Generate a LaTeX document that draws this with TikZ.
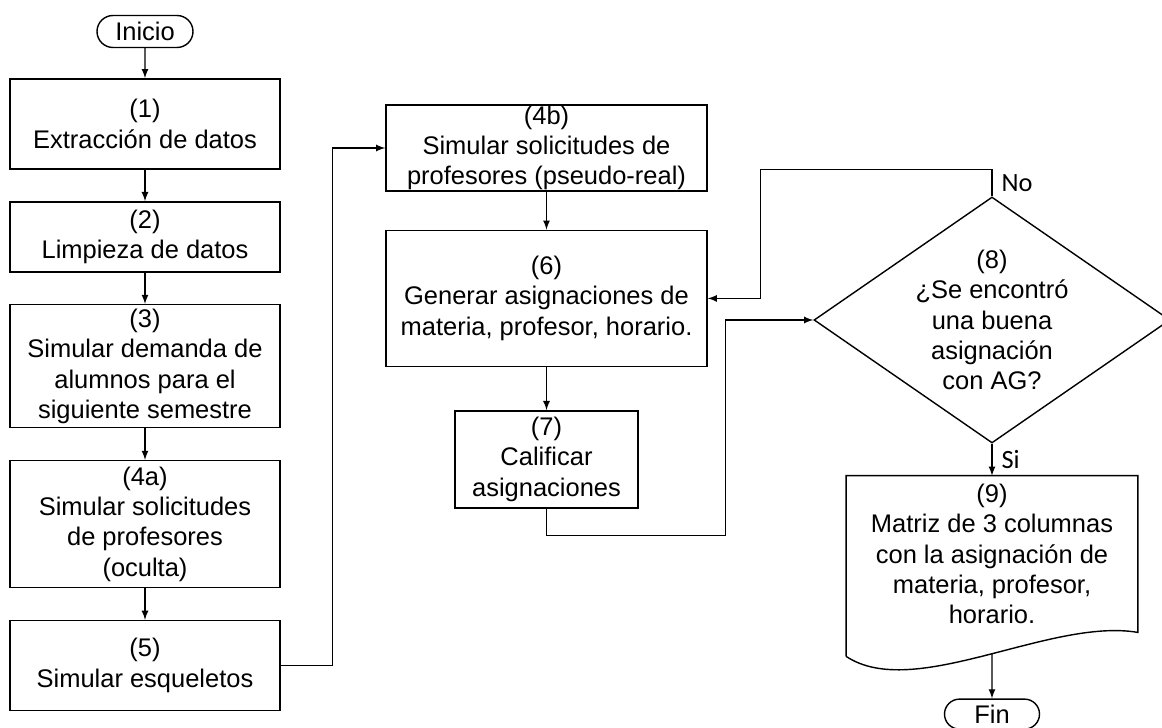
\documentclass[tikz,border=0pt]{standalone}
\usepackage{fontspec}
\setmainfont{Liberation Sans}
\newfontfamily\labelfont{Carlito}
\usetikzlibrary{shapes.geometric, shapes.misc, arrows, positioning, math, calc}

\begin{document}
\begin{tikzpicture}[>=latex, font=\fontsize{14.5}{17.3}\selectfont]
	\tikzmath{
		\x        = 2.9;   %center of first column
		\y        = -0.63; %center of Inicio
		\colW     = 5.4;   %left column width
		\rightX   = 10.93; %center of second column
		\rightW   = 6.42;  %second column width
		\nodeDist = 0.63;  %distance between nodes
	}
	\tikzstyle{Node} = [
		rectangle,
		draw=black,
		thick,
		inner sep=0pt,
		align=center
	]
	\tikzstyle{TermNode}  = [Node, rounded rectangle, minimum width=1.92cm, minimum height=0.64cm]
	\tikzstyle{DecNode}   = [diamond, draw=black, thick, minimum width=7.12cm, minimum height=4.92cm, inner sep=0pt]
	\tikzstyle{DocNode}   = [rectangle, minimum width=5.82cm, minimum height=3.12cm, inner sep=0pt, align=center]
	\tikzstyle{EmptyNode} = [rectangle, align=center]
	\tikzstyle{LabelNode} = [rectangle, inner sep=5pt, font=\labelfont\fontsize{15}{17}\selectfont]

	\useasboundingbox (0,0) rectangle (23.24,-14.56);

	%%%%%%%%%%%%%%%%%%%%%%%%%%===---FIRST COLUMN---===%%%%%%%%%%%%%%%%%%%%%%%%%%
	\node (ini) [TermNode] at (\x,\y) {Inicio};
		\node (s1)  [Node, minimum width=\colW cm, minimum height=1.8cm,  below = 0.6 cm of ini]      {(1)\\Extracción de datos};
		\node (s2)  [Node, minimum width=\colW cm, minimum height=1.4cm,  below = \nodeDist cm of s1]  {(2)\\Limpieza de datos};
		\node (s3)  [Node, minimum width=\colW cm, minimum height=2.46cm, below = \nodeDist cm of s2]  {(3)\\Simular demanda de\\alumnos para el\\siguiente semestre};
		\node (s4a) [Node, minimum width=\colW cm, minimum height=2.54cm, below = \nodeDist cm of s3]  {(4a)\\Simular solicitudes\\de profesores\\(oculta)};
		\node (s5)  [Node, minimum width=\colW cm, minimum height=1.8cm,  below = \nodeDist cm of s4a] {(5)\\Simular esqueletos};
	\draw[->, thick] (ini) -- (s1);
	\draw[->, thick] (s1) -- (s2);
	\draw[->, thick] (s2) -- (s3);
	\draw[->, thick] (s3) -- (s4a);
	\draw[->, thick] (s4a) -- (s5);

	%%%%%%%%%%%%%%%%%%%%%%%%%%===---SECOND COLUMN---===%%%%%%%%%%%%%%%%%%%%%%%%%%
		\node (s4b) [Node, minimum width=\rightW cm, minimum height=1.72cm] at (\rightX,-2.96) {(4b)\\Simular solicitudes de\\profesores (pseudo-real)};
		\node (s6)  [Node, minimum width=\rightW cm, minimum height=2.72cm, below = 0.76 cm of s4b] {(6)\\Generar asignaciones de\\materia, profesor, horario.};
		\node (s7)  [Node, minimum width=3.66cm,     minimum height=1.94cm, below = 0.86 cm of s6]  {(7)\\Calificar\\asignaciones};
	\draw[->, thick] (s5.east) -- ++(1.04,0) |- (s4b);
	\draw[->, thick] (s4b) -- (s6);
	\draw[->, thick] (s6) -- (s7);

	%%%%%%%%%%%%%%%%%%%%%%%%%%===---THIRD COLUMN---===%%%%%%%%%%%%%%%%%%%%%%%%%%
	\node (dec)     [DecNode] at (19.84,-6.4) {};
	\node (decText) [EmptyNode] at (dec) {(8)\\¿Se encontró\\una buena\\asignación\\con AG?};
	\node (doc)     [DocNode, below = 0.64 cm of dec] {(9)\\Matriz de 3 columnas\\con la asignación de\\materia, profesor,\\horario.};
	\node (fin)     [TermNode, minimum width=1.9cm, minimum height=0.6cm, below = 1.32 cm of doc] {Fin};
	\draw[thick] ([yshift=-0.48cm]doc.south west) -- (doc.north west) -- (doc.north east) -- (doc.south east)
		.. controls +(-1.76,0.3) and +(1.36,-0.9) .. coordinate[pos=0.48] (docbot) ([yshift=-0.48cm]doc.south west);

	\coordinate (joinA) at ($(dec.west)+(-1.76,0)$);
	\coordinate (joinB) at ($(s6.east)+(1.06,0)$);
	\draw[->, thick] (s7.south) -- ++(0,-0.54) -| (joinA) -- (dec.west);
	\draw[->, thick] (dec.north) -- node[LabelNode, right] {No} ++(0,0.54) -| (joinB) -- (s6.east);
	\draw[->, thick] (dec.south) -- node[LabelNode, right] {Si} (doc.north);
	\draw[->, thick] (fin.north |- docbot) -- (fin);
\end{tikzpicture}
\end{document}
